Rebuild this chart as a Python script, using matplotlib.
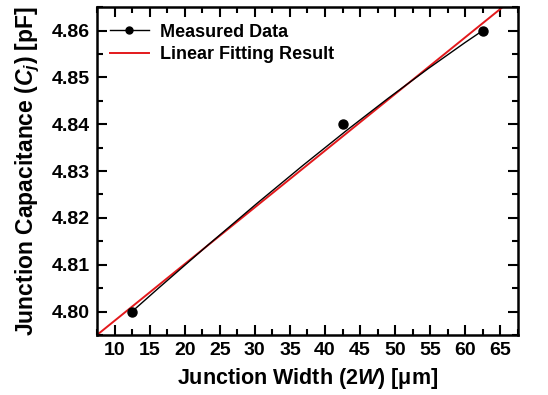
import matplotlib
matplotlib.use("Agg")
import numpy as np
import matplotlib.pyplot as plt
from matplotlib.path import Path
from matplotlib.patches import PathPatch
from matplotlib.ticker import MultipleLocator, FormatStrFormatter

# ── data ──
width_um = [12.5, 42.5, 62.5]          # junction width 2W [um]
cap_pf = [4.80, 4.84, 4.86]            # junction capacitance Cj [pF]

plt.rcParams["font.family"] = ["Liberation Sans", "DejaVu Sans"]
plt.rcParams["font.weight"] = "bold"
plt.rcParams["axes.labelweight"] = "bold"
plt.rcParams["mathtext.fontset"] = "custom"
plt.rcParams["mathtext.it"] = "Liberation Sans:italic:bold"
plt.rcParams["mathtext.rm"] = "Liberation Sans:bold"

RED = "#e3191c"

fig, ax = plt.subplots(figsize=(5.48, 3.95), dpi=100)
fig.subplots_adjust(left=0.177, right=0.945, top=0.982, bottom=0.152)

# B-spline style connection (Origin), quadratic Bezier with the points as controls
pts = list(zip(width_um, cap_pf))
spline = Path(pts, [Path.MOVETO, Path.CURVE3, Path.CURVE3])
ax.add_patch(PathPatch(spline, facecolor="none", edgecolor="black", lw=1.0, zorder=3))
ax.plot(width_um, cap_pf, "o", color="black", ms=6.5, zorder=4)

# linear fit
coef = np.polyfit(width_um, cap_pf, 1)
xl = np.array([7.5, 67.5])
ax.plot(xl, np.polyval(coef, xl), color=RED, lw=1.4, zorder=2)

# legend entries
ax.plot([], [], "o-", color="black", lw=1.0, ms=5, label="Measured Data")
ax.plot([], [], color=RED, lw=1.4, label="Linear Fitting Result")
ax.legend(loc="upper left", frameon=False, fontsize=13, handlelength=2.2,
          borderaxespad=0.3, handletextpad=0.6, labelspacing=0.3,
          bbox_to_anchor=(0.0, 0.988))

ax.set_xlim(7.5, 67.5)
ax.set_ylim(4.795, 4.865)
ax.xaxis.set_major_locator(MultipleLocator(5))
ax.xaxis.set_minor_locator(MultipleLocator(2.5))
ax.yaxis.set_major_locator(MultipleLocator(0.01))
ax.yaxis.set_minor_locator(MultipleLocator(0.005))
ax.yaxis.set_major_formatter(FormatStrFormatter("%.2f"))

ax.tick_params(which="both", direction="in", top=True, right=True, width=1.5)
ax.tick_params(which="major", length=7, labelsize=14, pad=5)
ax.tick_params(which="minor", length=4)
for s in ax.spines.values():
    s.set_linewidth(1.8)

ax.set_xlabel(r"Junction Width ($\mathit{2W}$) [μm]", fontsize=15.5, labelpad=5)
ax.set_ylabel(r"Junction Capacitance ($\mathit{C_j}$) [pF]", fontsize=16.5, labelpad=7)

fig.savefig("out.png", dpi=100)
